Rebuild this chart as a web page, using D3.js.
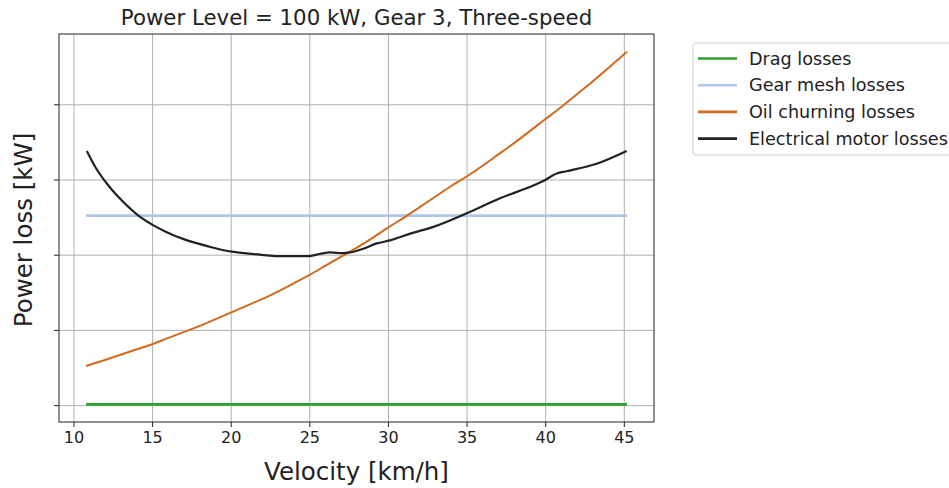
<!DOCTYPE html>
<html>
<head>
<meta charset="utf-8">
<script src="https://cdn.jsdelivr.net/npm/d3@7"></script>
<style>
  body { margin: 0; background: #fff; }
  svg { font-family: "DejaVu Sans", sans-serif; }
</style>
</head>
<body>
<div id="chart"></div>
<script>
// data (loss units are unlabelled in the original)
const velocityRange = [10.8, 45.2];
const dragLoss = [0.01, 0.01];
const gearMeshLoss = [2.52, 2.52];

const oilVelocity = [10.8, 12, 13, 14, 15, 16, 17, 18, 19, 20, 21, 22, 23, 24, 25, 26, 27, 28, 29, 30,
  31, 32, 33, 34, 35, 36, 37, 38, 39, 40, 41, 42, 43, 44, 45.2];
const oilLoss = [0.52, 0.60, 0.67, 0.74, 0.81, 0.89, 0.97, 1.05, 1.14, 1.23, 1.32, 1.41, 1.51, 1.62, 1.73,
  1.85, 1.97, 2.09, 2.22, 2.36, 2.49, 2.63, 2.77, 2.91, 3.04, 3.18, 3.33, 3.48, 3.64, 3.80,
  3.96, 4.13, 4.30, 4.48, 4.70];

const motorVelocity = [10.85, 11.38, 12.22, 13.08, 14.13, 15.09, 15.83, 17.10, 18.58, 20.07, 20.92, 21.87,
  23.35, 24.94, 25.68, 26.32, 27.16, 27.59, 28.44, 29.29, 30.13, 31.41, 32.89, 35.01, 37.13,
  39.24, 39.88, 40.73, 41.37, 43.27, 45.18];
const motorLoss = [3.38, 3.17, 2.92, 2.72, 2.52, 2.39, 2.31, 2.20, 2.11, 2.04, 2.02, 2.00,
  1.98, 1.98, 2.01, 2.03, 2.02, 2.03, 2.08, 2.15, 2.19, 2.28, 2.37, 2.55, 2.75,
  2.92, 2.98, 3.08, 3.11, 3.21, 3.38];

const xTicks = [10, 15, 20, 25, 30, 35, 40, 45];
const yTicks = [0, 1, 2, 3, 4];

const seriesNames = ['Drag losses', 'Gear mesh losses', 'Oil churning losses', 'Electrical motor losses'];
const seriesColors = ['#2ca02c', '#aec7e8', '#d2691e', '#222222'];

const width = 949, height = 488;
const margin = {top: 34, right: 295, bottom: 66, left: 59};
const w = width - margin.left - margin.right;
const h = height - margin.top - margin.bottom;

const svg = d3.select('#chart').append('svg')
  .attr('width', width)
  .attr('height', height);

const g = svg.append('g')
  .attr('transform', `translate(${margin.left},${margin.top})`);

// matplotlib style 5% margins
const xPad = (velocityRange[1] - velocityRange[0]) * 0.05;
const x = d3.scaleLinear()
  .domain([velocityRange[0] - xPad, velocityRange[1] + xPad])
  .range([0, w]);

const yPad = (4.70 - 0.01) * 0.05;
const y = d3.scaleLinear()
  .domain([0.01 - yPad, 4.70 + yPad])
  .range([h, 0]);

// grid
g.append('g')
  .attr('transform', `translate(0,${h})`)
  .call(d3.axisBottom(x).tickValues(xTicks).tickSize(-h).tickFormat(''))
  .call(s => s.select('.domain').remove())
  .selectAll('line').attr('stroke', '#b0b0b0').attr('stroke-width', 1);

g.append('g')
  .call(d3.axisLeft(y).tickValues(yTicks).tickSize(-w).tickFormat(''))
  .call(s => s.select('.domain').remove())
  .selectAll('line').attr('stroke', '#b0b0b0').attr('stroke-width', 1);

// series
const line = d3.line().x(d => x(d[0])).y(d => y(d[1]));
const smoothLine = d3.line().x(d => x(d[0])).y(d => y(d[1])).curve(d3.curveMonotoneX);

const series = [
  {pts: velocityRange.map((v, i) => [v, dragLoss[i]]), width: 2.6, gen: line},
  {pts: velocityRange.map((v, i) => [v, gearMeshLoss[i]]), width: 2.6, gen: line},
  {pts: oilVelocity.map((v, i) => [v, oilLoss[i]]), width: 2, gen: smoothLine},
  {pts: motorVelocity.map((v, i) => [v, motorLoss[i]]), width: 2.2, gen: smoothLine}
];

series.forEach((s, i) => {
  g.append('path')
    .datum(s.pts)
    .attr('fill', 'none')
    .attr('stroke', seriesColors[i])
    .attr('stroke-width', s.width)
    .attr('stroke-linejoin', 'round')
    .attr('d', s.gen);
});

// axes with ticks
const xAxis = g.append('g')
  .attr('transform', `translate(0,${h})`)
  .call(d3.axisBottom(x).tickValues(xTicks).tickSize(5).tickPadding(5));
xAxis.select('.domain').remove();
xAxis.selectAll('text').attr('font-size', 16).attr('fill', '#222').attr('font-family', 'DejaVu Sans');
xAxis.selectAll('line').attr('stroke', '#222');

const yAxis = g.append('g')
  .call(d3.axisLeft(y).tickValues(yTicks).tickSize(5).tickFormat(''));
yAxis.select('.domain').remove();
yAxis.selectAll('line').attr('stroke', '#222');

// frame
g.append('rect')
  .attr('width', w).attr('height', h)
  .attr('fill', 'none')
  .attr('stroke', '#222')
  .attr('stroke-width', 1);

// title and labels
svg.append('text')
  .attr('x', margin.left + w / 2)
  .attr('y', 25)
  .attr('text-anchor', 'middle')
  .attr('font-size', 21.3)
  .attr('fill', '#222')
  .text('Power Level = 100 kW, Gear 3, Three-speed');

svg.append('text')
  .attr('x', margin.left + w / 2)
  .attr('y', 480)
  .attr('text-anchor', 'middle')
  .attr('font-size', 24.5)
  .attr('fill', '#222')
  .text('Velocity [km/h]');

svg.append('text')
  .attr('transform', `translate(32,230) rotate(-90)`)
  .attr('text-anchor', 'middle')
  .attr('font-size', 24.5)
  .attr('fill', '#222')
  .text('Power loss [kW]');

// legend
const legend = svg.append('g').attr('transform', 'translate(693,43)');
legend.append('rect')
  .attr('width', 270).attr('height', 112)
  .attr('rx', 3)
  .attr('fill', '#fff')
  .attr('stroke', '#d0d0d0');

seriesNames.forEach((name, i) => {
  const row = legend.append('g').attr('transform', `translate(0,${15.5 + i * 26.7})`);
  row.append('line')
    .attr('x1', 5).attr('x2', 44)
    .attr('stroke', seriesColors[i])
    .attr('stroke-width', 2.6);
  row.append('text')
    .attr('x', 56).attr('dy', '0.35em')
    .attr('font-size', 17.6)
    .attr('fill', '#222')
    .text(name);
});
</script>
</body>
</html>
